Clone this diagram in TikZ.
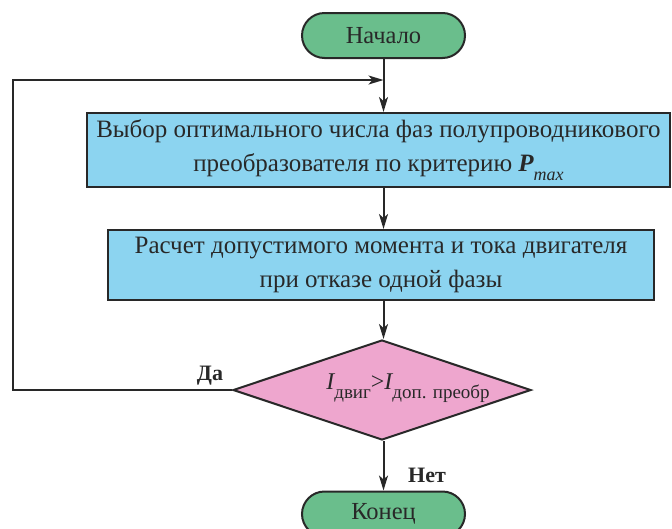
\documentclass[tikz,border=0pt]{standalone}
\usepackage{fontspec}
\setmainfont{Liberation Serif}
\usetikzlibrary{shapes.misc,shapes.geometric,arrows.meta}
\definecolor{pillgreen}{RGB}{106,190,140}
\definecolor{boxblue}{RGB}{140,212,240}
\definecolor{diapink}{RGB}{238,166,206}
\definecolor{ink}{RGB}{40,40,40}
\begin{document}
\begin{tikzpicture}[x=1pt,y=-1pt,
  every node/.style={text=ink},
  pill/.style={rounded rectangle, draw=ink, line width=2pt, fill=pillgreen, minimum width=163pt, minimum height=45pt, inner sep=0pt, font=\fontsize{24.5}{28}\selectfont},
  procbox/.style={rectangle, draw=ink, line width=2pt, fill=boxblue, align=center, inner sep=0pt, font=\fontsize{25}{34}\selectfont},
  decision/.style={diamond, draw=ink, line width=2pt, fill=diapink, aspect=2.98, minimum width=298pt, minimum height=100pt, inner sep=0pt},
  arr/.style={draw=ink, line width=2pt, -{Stealth[length=15pt,width=9pt,inset=4pt]}},
  lbl/.style={font=\fontsize{22}{26}\selectfont\bfseries}]
\clip (0,0) rectangle (672,528);
\fill[white] (0,0) rectangle (672,528);
\node[pill] (start) at (383.5,35.5) {Начало};
\node[procbox, minimum width=583pt, minimum height=74pt] (b1) at (378.5,150)
  {Выбор оптимального числа фаз полупроводникового\\преобразователя по критерию {\bfseries\itshape P}\raisebox{-0.35em}{\fontsize{18}{18}\selectfont\itshape max}};
\node[procbox, minimum width=546pt, minimum height=70pt] (b2) at (381,265)
  {Расчет допустимого момента и тока двигателя\\при отказе одной фазы};
\node[decision] (dia) at (382,390) {};
\node[font=\fontsize{24}{28}\selectfont] (cond) at (408,388)
  {\itshape I\upshape\raisebox{-0.35em}{\fontsize{19}{19}\selectfont двиг}>\itshape I\upshape\raisebox{-0.35em}{\fontsize{19}{19}\selectfont доп. преобр}};
\node[pill] (end) at (383.5,514) {Конец};
\coordinate (join) at (383.5,80);
\coordinate (lc) at (13,80);
\draw[arr] (start.south) -- (b1.north -| start.south);
\draw[arr] (b1.south -| start.south) -- (b2.north -| start.south);
\draw[arr] (b2.south -| start.south) -- (dia.north -| start.south);
\draw[arr] (dia.south -| start.south) -- (end.north);
\draw[arr] (dia.west) -| (lc) -- (join);
\node[lbl] (yes) at (210,376) {Да};
\node[lbl] (no) at (427,475) {Нет};
\end{tikzpicture}
\end{document}
